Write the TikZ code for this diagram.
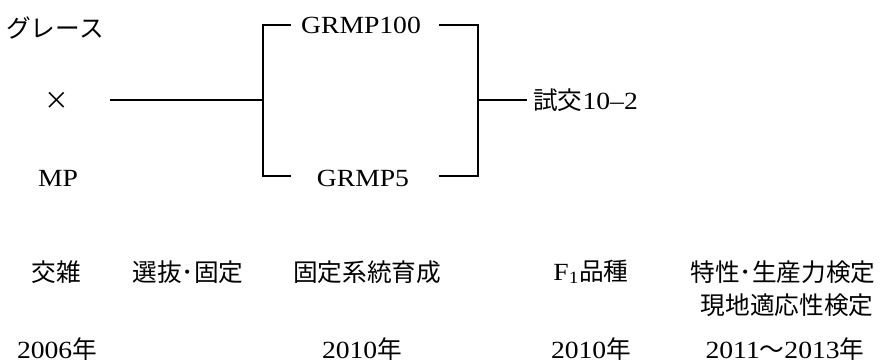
\documentclass[tikz,border=0pt]{standalone}
\usepackage{fontspec}
\setmainfont{Liberation Serif}[FakeStretch=1.12]
\newfontfamily\cjk{Noto Sans CJK JP}
\begin{document}
\begin{tikzpicture}[x=0.75pt,y=-0.75pt,
  lbl/.style={inner sep=0pt, font=\fontsize{18.5}{22}\selectfont},
  ln/.style={line width=1.8pt, line cap=rect}]
\useasboundingbox (0,0) rectangle (888,363);
% top diagram
\node[lbl] (gr) at (55,28) {\cjk グレース};
\node[lbl] (cross) at (57,101) {\cjk ×};
\node[lbl] (mp) at (58,178) {MP};
\node[lbl] (g100) at (361,25) {GRMP100};
\node[lbl] (g5) at (363,178) {GRMP5};
\node[lbl, anchor=west] (shi) at (533,100) {{\cjk 試交}10–2};
% junction coordinates
\coordinate (lstart) at (111,100);
\coordinate (lj) at (263,100);
\coordinate (lt) at (290,25);
\coordinate (lb) at (290,176);
\coordinate (rt) at (440,25);
\coordinate (rb) at (440,176);
\coordinate (rj) at (478,100);
\draw[ln] (lstart) -- (lj);
\draw[ln] (lt) -- (lt -| lj) -- (lb -| lj) -- (lb);
\draw[ln] (rt) -- (rt -| rj) -- (rb -| rj) -- (rb);
\draw[ln] (rj) -- (shi.west -| 526,0);
% bottom rows
\node[lbl] (s1) at (56,272) {\cjk 交雑};
\node[lbl] (s2) at (188,272) {\cjk 選抜･固定};
\node[lbl] (s3) at (367,272) {\cjk 固定系統育成};
\node[lbl] (s4) at (591,272) {F\textsubscript{1}{\cjk 品種}};
\node[lbl] (s5) at (783,272) {\cjk 特性･生産力検定};
\node[lbl] (s5b) at (787,305) {\cjk 現地適応性検定};
\node[lbl] (y1) at (57,349) {2006{\cjk 年}};
\node[lbl] (y3) at (362,349) {2010{\cjk 年}};
\node[lbl] (y4) at (591,349) {2010{\cjk 年}};
\node[lbl] (y5) at (785,349) {2011{\cjk ～}2013{\cjk 年}};
\end{tikzpicture}
\end{document}
